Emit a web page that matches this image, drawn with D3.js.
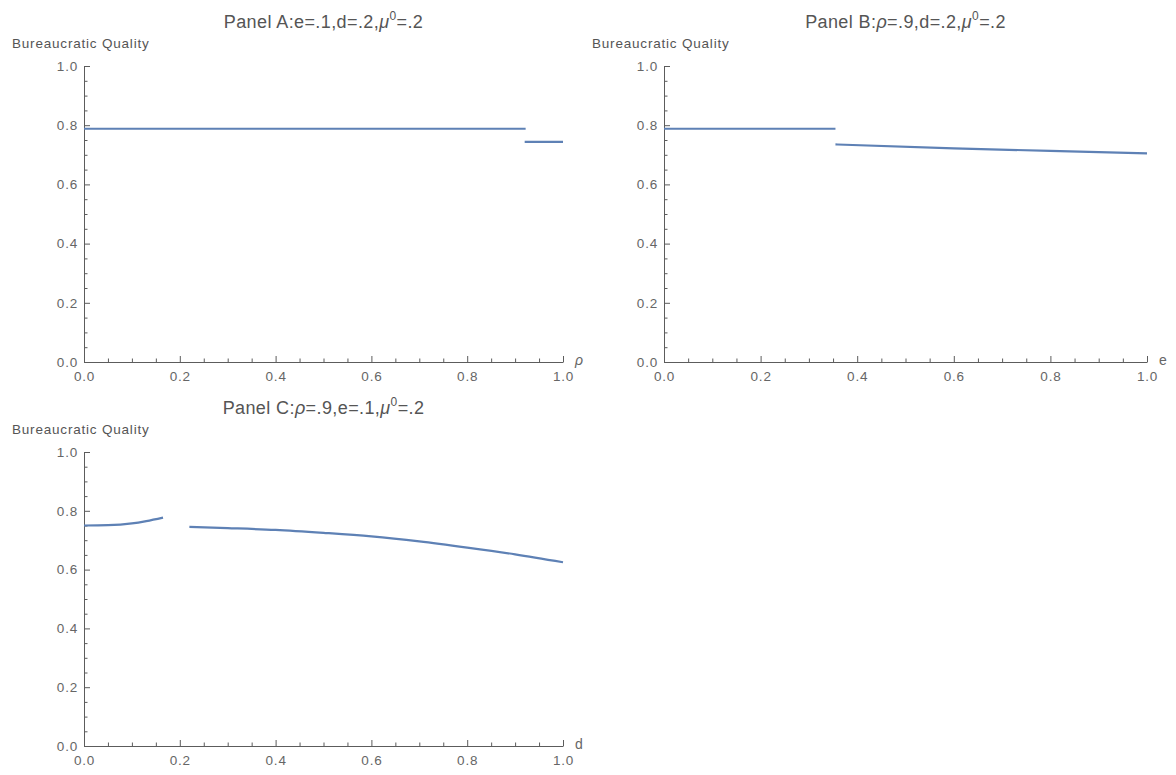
<!DOCTYPE html>
<html>
<head>
<meta charset="utf-8">
<script src="https://cdn.jsdelivr.net/npm/d3@7"></script>
<style>
  body { margin: 0; background: #fff; }
  text { font-family: "Liberation Sans", Arial, sans-serif; }
</style>
</head>
<body>
<div id="chart"></div>
<script>
// values, one array per line segment
const rhoA1 = [0, 0.922];
const qualA1 = [0.788, 0.788];
const rhoA2 = [0.92, 1.0];
const qualA2 = [0.744, 0.744];

const eB1 = [0, 0.355];
const qualB1 = [0.788, 0.788];
const eB2 = [0.355, 0.6, 0.8, 1.0];
const qualB2 = [0.735, 0.722, 0.713, 0.705];

const dC1 = [0, 0.05, 0.1, 0.13, 0.165];
const qualC1 = [0.75, 0.751, 0.757, 0.765, 0.777];
const dC2 = [0.22, 0.3, 0.4, 0.5, 0.6, 0.7, 0.8, 0.9, 1.0];
const qualC2 = [0.745, 0.741, 0.735, 0.725, 0.713, 0.696, 0.675, 0.652, 0.625];

const majorTicks = [0, 0.2, 0.4, 0.6, 0.8, 1.0];
const minorTicks = d3.range(0, 21).map(i => i / 20).filter(v => Math.round(v * 20) % 4 !== 0);

const yLabel = "Bureaucratic Quality";

const panels = [
  { title: "Panel A:e=.1,d=.2,", xname: "ρ", italic: true,
    segs: [[rhoA1, qualA1], [rhoA2, qualA2]],
    x0: 84, x1: 563, y0: 362, y1: 66 },
  { title: "Panel B:ρ=.9,d=.2,", xname: "e", italic: false,
    segs: [[eB1, qualB1], [eB2, qualB2]],
    x0: 664, x1: 1147, y0: 362, y1: 66 },
  { title: "Panel C:ρ=.9,e=.1,", xname: "d", italic: false,
    segs: [[dC1, qualC1], [dC2, qualC2]],
    x0: 84, x1: 563, y0: 746, y1: 452 },
];

const axisColor = "#5c5c5c";
const textColor = "#666";
const lineColor = "#5E81B5";

const svg = d3.select("#chart")
  .append("svg")
  .attr("width", 1176)
  .attr("height", 775);

panels.forEach(p => drawPanel(p));

function drawPanel(p) {
  const x = d3.scaleLinear([0, 1], [p.x0, p.x1]);
  const y = d3.scaleLinear([0, 1], [p.y0, p.y1]);
  const g = svg.append("g");

  // title, with the mu^0 written as tspans
  const t = g.append("text")
    .attr("x", (p.x0 + p.x1) / 2)
    .attr("y", p.y1 - 38)
    .attr("text-anchor", "middle")
    .attr("font-size", 18)
    .attr("letter-spacing", 0.4)
    .attr("fill", "#555");
  // split on greek rho so it can be italic
  const parts = p.title.split("ρ");
  parts.forEach((s, i) => {
    if (i > 0) t.append("tspan").attr("font-style", "italic").text("ρ");
    t.append("tspan").text(s);
  });
  t.append("tspan").attr("font-style", "italic").text("μ");
  t.append("tspan").attr("dy", -8).attr("font-size", 12).text("0");
  t.append("tspan").attr("dy", 8).text("=.2");

  g.append("text")
    .attr("x", p.x0 - 72)
    .attr("y", p.y1 - 18)
    .attr("font-size", 13.5)
    .attr("letter-spacing", 0.8)
    .attr("fill", "#555")
    .text(yLabel);

  // y axis: minor then major
  const yMinor = g.append("g")
    .attr("transform", `translate(${p.x0},0)`)
    .call(d3.axisRight(y).tickValues(minorTicks).tickSize(3.5).tickFormat(""));
  yMinor.select(".domain").remove();

  const yAxis = g.append("g")
    .attr("transform", `translate(${p.x0},0)`)
    .call(d3.axisLeft(y).tickValues(majorTicks).tickSizeInner(-6).tickSizeOuter(0)
      .tickPadding(6).tickFormat(d3.format(".1f")));

  const xMinor = g.append("g")
    .attr("transform", `translate(0,${p.y0})`)
    .call(d3.axisTop(x).tickValues(minorTicks).tickSize(3.5).tickFormat(""));
  xMinor.select(".domain").remove();

  const xAxis = g.append("g")
    .attr("transform", `translate(0,${p.y0})`)
    .call(d3.axisBottom(x).tickValues(majorTicks).tickSizeInner(-6).tickSizeOuter(0)
      .tickPadding(9).tickFormat(d3.format(".1f")));

  [yMinor, yAxis, xMinor, xAxis].forEach(a => {
    a.selectAll("line").attr("stroke", axisColor);
    a.select(".domain").attr("stroke", axisColor);
    a.selectAll("text").attr("fill", textColor).attr("font-size", 13.5)
      .attr("letter-spacing", 0.8)
      .attr("font-family", '"Liberation Sans", Arial, sans-serif');
  });

  g.append("text")
    .attr("x", p.x1 + 12)
    .attr("y", p.y0 + 3)
    .attr("font-size", 14)
    .attr("fill", textColor)
    .attr("font-style", p.italic ? "italic" : "normal")
    .text(p.xname);

  const line = d3.line()
    .x(d => x(d[0]))
    .y(d => y(d[1]))
    .curve(d3.curveMonotoneX);

  p.segs.forEach(([xs, ys]) => {
    g.append("path")
      .datum(xs.map((v, i) => [v, ys[i]]))
      .attr("fill", "none")
      .attr("stroke", lineColor)
      .attr("stroke-width", 2.2)
      .attr("d", line);
  });
}
</script>
</body>
</html>
